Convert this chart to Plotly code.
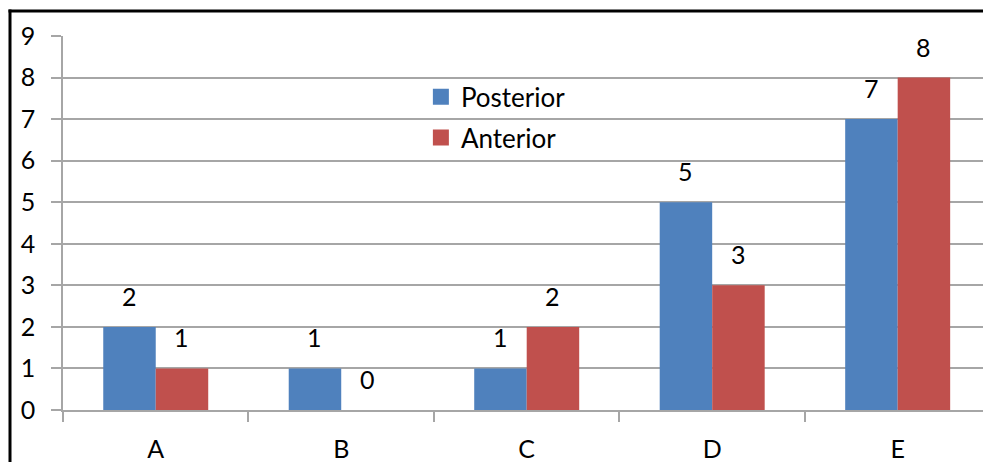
import plotly.graph_objects as go

categories = ["A", "B", "C", "D", "E"]
posterior = [2, 1, 1, 5, 7]
anterior = [1, 0, 2, 3, 8]
y_ticks = list(range(0, 10))

BLUE = "#4F81BD"
RED = "#C0504D"
GRID = "#A6A6A6"
FONT = "Lato"
BAR_GAP = 0.434
FRAME = "#000000"

fig = go.Figure()
fig.add_trace(go.Bar(x=categories, y=posterior, name="Posterior",
                     marker=dict(color=BLUE, line=dict(width=0)),
                     showlegend=False))
fig.add_trace(go.Bar(x=categories, y=anterior, name="Anterior",
                     marker=dict(color=RED, line=dict(width=0)),
                     showlegend=False))

# legend keys: larger square swatches than the default bar key
for name, color, grp in (("Posterior", BLUE, "p"), ("Anterior", RED, "a")):
    fig.add_trace(go.Scatter(x=[None], y=[None], mode="markers", name=name,
                             marker=dict(symbol="square", size=16, color=color,
                                         line=dict(width=0)),
                             legendgroup=grp, hoverinfo="skip"))

# value labels above each bar, centred on the bar within its group
half = (1 - BAR_GAP) / 4
annotations = []
for series, shift in ((posterior, -half), (anterior, half)):
    for i, v in enumerate(series):
        annotations.append(dict(
            x=i + shift, y=v, xref="x", yref="y", text=str(v),
            showarrow=False, yanchor="bottom", yshift=14,
            font=dict(family=FONT, size=25, color="#000000")))

# outer frame of the chart (top and left edges) as thin filled bands
PLOT_W, PLOT_H, LEFT, BOTTOM = 920, 374, 63, 410
def px_x(p):
    return (p - LEFT) / PLOT_W
def px_y(p):
    return (BOTTOM - p) / PLOT_H

shapes = [
    dict(type="rect", xref="paper", yref="paper",
         x0=px_x(8.5), x1=1.0, y0=px_y(12.5), y1=px_y(9.5),
         fillcolor=FRAME, line=dict(width=0), layer="above"),
    dict(type="rect", xref="paper", yref="paper",
         x0=px_x(8.5), x1=px_x(11.5), y0=px_y(462), y1=px_y(9.5),
         fillcolor=FRAME, line=dict(width=0), layer="above"),
]

fig.update_layout(
    width=983, height=462,
    margin=dict(l=63, r=0, t=36, b=52),
    paper_bgcolor="white", plot_bgcolor="white",
    barmode="group", bargap=BAR_GAP, bargroupgap=0,
    font=dict(family=FONT, size=25, color="#000000"),
    showlegend=True,
    legend=dict(x=0.389, y=0.90, xanchor="left", yanchor="top",
                bgcolor="rgba(0,0,0,0)", traceorder="grouped",
                tracegroupgap=4, itemsizing="trace",
                font=dict(family=FONT, size=26)),
    annotations=annotations,
    shapes=shapes,
    xaxis=dict(type="category", range=[-0.5, 4.46], tickson="boundaries",
               showgrid=False, ticks="outside", ticklen=10, tickcolor=GRID,
               tickwidth=1.5, showline=True, linecolor=GRID, linewidth=1.5,
               ticklabelstandoff=16, fixedrange=True),
    yaxis=dict(range=[0, 9], tickvals=y_ticks, showgrid=True,
               gridcolor=GRID, gridwidth=1.5, zeroline=False,
               ticks="outside", ticklen=10, tickcolor=GRID, tickwidth=1.5,
               showline=True, linecolor=GRID, linewidth=1.5,
               ticklabelstandoff=11, fixedrange=True),
)

# keep the page exactly the size of the figure, with no scrollbars
page_css = ("document.documentElement.style.overflow='hidden';"
            "document.body.style.margin='0';"
            "document.body.style.overflow='hidden';")

fig.write_html("out.html", post_script=page_css, config={"displayModeBar": False})
